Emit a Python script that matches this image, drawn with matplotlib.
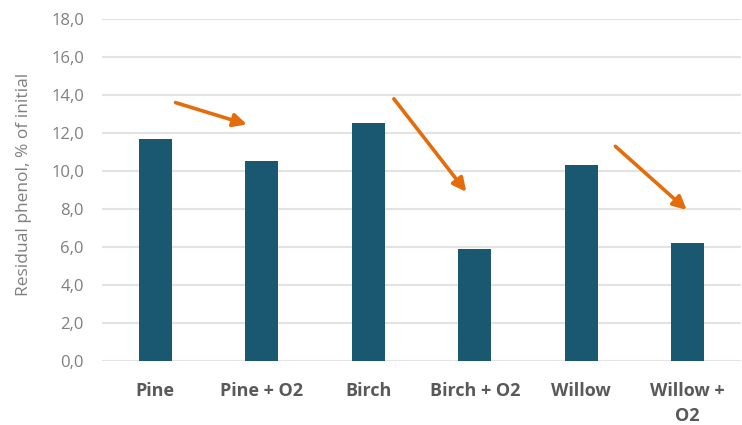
import matplotlib
matplotlib.use("Agg")
import matplotlib.pyplot as plt
from matplotlib.ticker import FuncFormatter

categories = ["Pine", "Pine + O2", "Birch", "Birch + O2", "Willow", "Willow +\nO2"]
values = [11.7, 10.5, 12.5, 5.9, 10.3, 6.2]
y_ticks = [0, 2, 4, 6, 8, 10, 12, 14, 16, 18]
# annotation arrows: (x_start, y_start, x_end, y_end) in data units
arrows = [
    (0.19, 13.6, 0.86, 12.45),
    (2.24, 13.8, 2.92, 8.9),
    (4.32, 11.3, 4.99, 7.95),
]

plt.rcParams['font.family'] = ['Open Sans', 'DejaVu Sans']
fig = plt.figure(figsize=(7.42, 4.25), dpi=100)
ax = fig.add_axes([0.1375, 0.1506, 0.8612, 0.8047])

x = list(range(len(categories)))
ax.bar(x, values, width=0.31, color="#1A5872", zorder=3)
ax.set_xlim(-0.5, len(categories) - 0.5)
ax.set_ylim(0, 18)
ax.set_yticks(y_ticks)
ax.yaxis.set_major_formatter(FuncFormatter(lambda v, p: f"{v:.1f}".replace(".", ",")))
ax.grid(axis="y", color="#E3E3E3", linewidth=1.5, zorder=0)
for s in ax.spines.values():
    s.set_visible(False)
ax.set_xticks(x)
ax.set_xticklabels(categories, fontweight="bold", fontsize=13, color="#595959", linespacing=1.5)
ax.tick_params(axis="x", length=0, pad=15, labelcolor="#595959")
ax.tick_params(axis="y", length=0, pad=13, labelsize=12, labelcolor="#7F7F7F")
for lbl in ax.get_xticklabels():
    lbl.set_verticalalignment("top")
ax.set_ylabel("Residual phenol, % of initial", fontsize=12.5, color="#7F7F7F")
ax.yaxis.set_label_coords(-0.11, 0.515)

for xs, ys, xe, ye in arrows:
    ax.annotate("", xy=(xe, ye), xytext=(xs, ys),
                arrowprops=dict(arrowstyle="-|>,head_length=0.8,head_width=0.4",
                                color="#E46C0A", lw=2.6, shrinkA=0, shrinkB=0),
                zorder=4)

fig.savefig("out.png", dpi=100, facecolor="white")
